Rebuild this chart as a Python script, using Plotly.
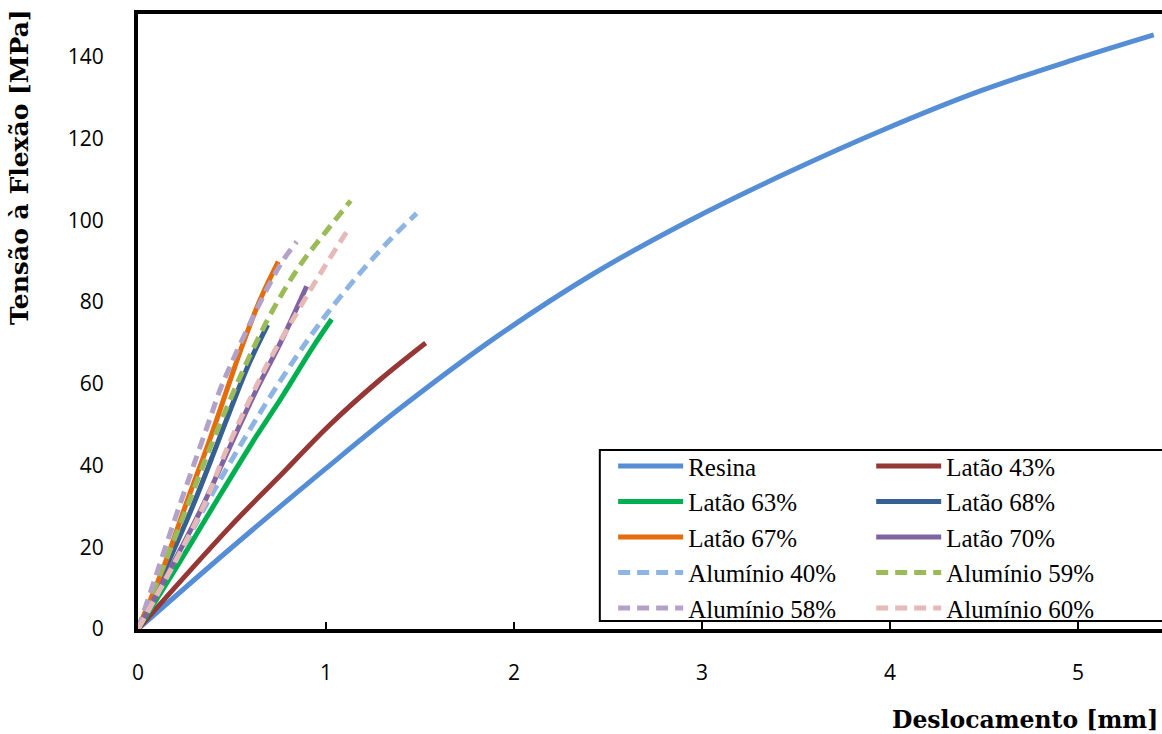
import plotly.graph_objects as go

# ---- data ----
resina_x = [0, 0.5, 1.0, 1.394, 1.91, 2.425, 2.94, 3.456, 3.972, 4.488, 5.003, 5.403]
resina_y = [0, 20.0, 39.3, 54.0, 71.6, 87.0, 100.1, 111.7, 122.3, 131.8, 139.7, 145.4]

latao43_x = [0, 0.489, 0.745, 1.021, 1.287, 1.53]
latao43_y = [0, 25.0, 37.0, 50.0, 61.0, 70.0]

latao63_x = [0, 0.223, 0.400, 0.631, 0.755, 0.932, 1.030]
latao63_y = [0, 16.5, 30.0, 47.3, 56.0, 69.1, 75.8]

latao68_x = [0, 0.277, 0.419, 0.507, 0.596, 0.690]
latao68_y = [0, 28.5, 45.0, 55.5, 65.5, 74.4]

latao67_x = [0, 0.135, 0.259, 0.383, 0.480, 0.560, 0.649, 0.746]
latao67_y = [0, 15.0, 31.0, 46.5, 59.5, 70.0, 80.5, 89.9]

latao70_x = [0, 0.330, 0.489, 0.614, 0.773, 0.897]
latao70_y = [0, 28.8, 44.6, 57.0, 71.5, 83.9]

al40_x = [0, 0.223, 0.400, 0.578, 0.737, 0.915, 1.092, 1.323, 1.482]
al40_y = [0, 18.5, 33.5, 47.5, 59.3, 71.5, 82.2, 94.4, 101.7]

al59_x = [0, 0.241, 0.365, 0.489, 0.596, 0.720, 0.862, 1.004, 1.131]
al59_y = [0, 27.5, 42.2, 56.0, 67.0, 78.3, 89.0, 97.5, 104.8]

al58_x = [0, 0.082, 0.189, 0.312, 0.383, 0.436, 0.489, 0.596, 0.702, 0.773, 0.844]
al58_y = [0, 11.2, 25.9, 42.2, 51.5, 58.5, 64.2, 74.8, 84.6, 90.3, 94.8]

al60_x = [0, 0.330, 0.472, 0.614, 0.702, 0.844, 0.986, 1.128]
al60_y = [0, 28.3, 44.0, 58.0, 66.0, 77.3, 88.2, 98.5]

x_ticks = [0, 1, 2, 3, 4, 5]
y_ticks = [0, 20, 40, 60, 80, 100, 120, 140]

# name, x, y, colour, style, legend column
series = [
    ("Resina", resina_x, resina_y, "#558ED5", "solid", "legend"),
    ("Latão 43%", latao43_x, latao43_y, "#953735", "solid", "legend2"),
    ("Latão 63%", latao63_x, latao63_y, "#00B050", "solid", "legend"),
    ("Latão 68%", latao68_x, latao68_y, "#376092", "solid", "legend2"),
    ("Latão 67%", latao67_x, latao67_y, "#E46C0A", "solid", "legend"),
    ("Latão 70%", latao70_x, latao70_y, "#8064A2", "solid", "legend2"),
    ("Alumínio 40%", al40_x, al40_y, "#8EB4E3", "dash", "legend"),
    ("Alumínio 59%", al59_x, al59_y, "#9BBB59", "dash", "legend2"),
    ("Alumínio 58%", al58_x, al58_y, "#B3A2C7", "dash", "legend"),
    ("Alumínio 60%", al60_x, al60_y, "#E6B9B8", "dash", "legend2"),
]

fig = go.Figure()
for name, xs, ys, color, style, lg in series:
    fig.add_trace(go.Scatter(
        x=xs, y=ys, name=name, mode="lines", legend=lg,
        line=dict(color=color, width=5,
                  dash="12px,7px" if style == "dash" else "solid",
                  shape="spline", smoothing=1.0),
    ))

legend_font = dict(family="Liberation Serif", size=25, color="black")
common_legend = dict(
    orientation="v", xanchor="left", yanchor="top",
    xref="paper", yref="paper", itemwidth=65,
    borderwidth=0, bgcolor="rgba(0,0,0,0)", font=legend_font,
)

fig.update_layout(
    width=1162, height=734,
    margin=dict(l=138, r=0, t=14, b=105, autoexpand=False),
    paper_bgcolor="white", plot_bgcolor="white",
    showlegend=True,
    legend=dict(x=0.464, y=0.302, **common_legend),
    legend2=dict(x=0.716, y=0.302, **common_legend),
    shapes=[
        dict(type="rect", xref="paper", yref="paper",
             x0=0.451, x1=1.02, y0=0.013, y1=0.291,
             line=dict(color="black", width=2), fillcolor="white", layer="below"),
    ],
    xaxis=dict(
        range=[0, 5.447], tickvals=x_ticks, showgrid=False, zeroline=False,
        showline=True, linecolor="black", linewidth=4, mirror=True,
        ticks="inside", ticklen=7, tickwidth=1.5, tickcolor="black",
        ticklabelstandoff=22,
        tickfont=dict(family="Open Sans", size=21, color="black"),
    ),
    yaxis=dict(
        range=[0, 150.5], tickvals=y_ticks, showgrid=False, zeroline=False,
        showline=True, linecolor="black", linewidth=4,
        ticks="", ticklabelstandoff=26,
        tickfont=dict(family="Open Sans", size=21, color="black"),
    ),
    annotations=[
        dict(text="Tensão à Flexão [MPa]", xref="paper", yref="paper",
             x=-0.1155, y=1.011, xanchor="center", yanchor="top", textangle=-90,
             showarrow=False,
             font=dict(family="DejaVu Serif", size=25, color="black", weight="bold")),
        dict(text="Deslocamento [mm]", xref="paper", yref="paper",
             x=0.998, y=-0.148, xanchor="right", yanchor="middle",
             showarrow=False,
             font=dict(family="DejaVu Serif", size=23.5, color="black", weight="bold")),
    ],
)

fig.write_html("out.html", config={"displayModeBar": False},
               post_script="document.body.style.margin='0px';")
